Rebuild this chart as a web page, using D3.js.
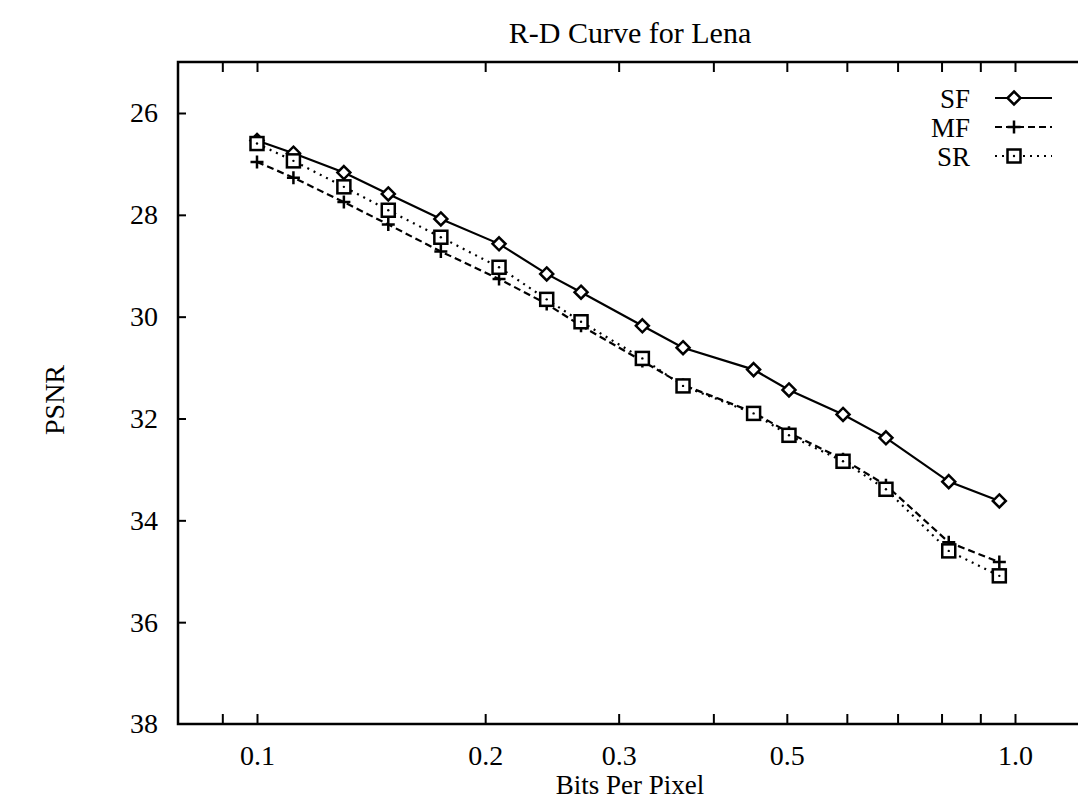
<!DOCTYPE html>
<html>
<head>
<meta charset="utf-8">
<script src="https://cdn.jsdelivr.net/npm/d3@7"></script>
<style>
  html, body { margin: 0; padding: 0; background: #fff; }
  svg text { font-family: "Liberation Serif", "DejaVu Serif", serif; fill: #000; }
</style>
</head>
<body>
<svg id="chart" width="1078" height="800"></svg>
<script>
// ---- data ----
const bpp = [0.1, 0.1117, 0.1302, 0.149, 0.1748, 0.2086, 0.2411, 0.2676,
             0.3224, 0.3648, 0.452, 0.5033, 0.5931, 0.6757, 0.8177, 0.9535];
const sfPSNR = [26.54, 26.79, 27.17, 27.59, 28.08, 28.57, 29.16, 29.52,
                30.18, 30.61, 31.04, 31.44, 31.92, 32.38, 33.24, 33.62];
const mfPSNR = [26.96, 27.27, 27.75, 28.19, 28.72, 29.26, 29.75, 30.18,
                30.87, 31.34, 31.88, 32.28, 32.80, 33.31, 34.43, 34.82];
const srPSNR = [26.60, 26.94, 27.45, 27.91, 28.44, 29.03, 29.66, 30.10,
                30.82, 31.36, 31.90, 32.33, 32.84, 33.39, 34.60, 35.09];
const seriesNames = ["SF", "MF", "SR"];
const xTickValues = [0.09, 0.1, 0.2, 0.3, 0.4, 0.5, 0.6, 0.7, 0.8, 0.9, 1.0];
const xTickLabels = {0.1: "0.1", 0.2: "0.2", 0.3: "0.3", 0.5: "0.5", 1.0: "1.0"};
const yTickValues = [26, 28, 30, 32, 34, 36, 38];
const titleText = "R-D Curve for Lena";
const xLabel = "Bits Per Pixel";
const yLabel = "PSNR";

// ---- layout ----
const svg = d3.select("#chart");
const frame = {left: 178, right: 1088, top: 62, bottom: 724};

const x = d3.scaleLog().domain([0.1, 1.0]).range([257, 1015]);
const y = d3.scaleLinear().domain([26, 38]).range([113, 724]);

const black = "#000";

// frame
svg.append("rect")
  .attr("x", frame.left).attr("y", frame.top)
  .attr("width", frame.right - frame.left).attr("height", frame.bottom - frame.top)
  .attr("fill", "none").attr("stroke", black).attr("stroke-width", 2.5);

// bottom axis (ticks inward)
const xAxisB = d3.axisBottom(x).tickValues(xTickValues).tickSize(-10)
  .tickFormat(d => xTickLabels[d] || "").tickPadding(0);
const gxb = svg.append("g").attr("transform", `translate(0,${frame.bottom})`).call(xAxisB);
gxb.select(".domain").remove();
gxb.selectAll(".tick line").attr("stroke", black).attr("stroke-width", 2);
gxb.selectAll(".tick text").attr("font-size", 28).attr("y", 41).attr("dy", "0");

// top axis
const xAxisT = d3.axisTop(x).tickValues(xTickValues).tickSize(-10).tickFormat("");
const gxt = svg.append("g").attr("transform", `translate(0,${frame.top})`).call(xAxisT);
gxt.select(".domain").remove();
gxt.selectAll(".tick line").attr("stroke", black).attr("stroke-width", 2);

// left axis
const yAxisL = d3.axisLeft(y).tickValues(yTickValues).tickSize(-8).tickPadding(20);
const gyl = svg.append("g").attr("transform", `translate(${frame.left},0)`).call(yAxisL);
gyl.select(".domain").remove();
gyl.selectAll(".tick line").attr("stroke", black).attr("stroke-width", 2)
  .attr("display", d => d === 38 ? "none" : null);
gyl.selectAll(".tick text").attr("font-size", 28);

// right axis
const yAxisR = d3.axisRight(y).tickValues(yTickValues.filter(v => v < 38)).tickSize(-10).tickFormat("");
const gyr = svg.append("g").attr("transform", `translate(${frame.right},0)`).call(yAxisR);
gyr.select(".domain").remove();
gyr.selectAll(".tick line").attr("stroke", black).attr("stroke-width", 2);

// titles
svg.append("text").attr("x", 630).attr("y", 43).attr("text-anchor", "middle")
  .attr("font-size", 30).text(titleText);
svg.append("text").attr("x", 630).attr("y", 794).attr("text-anchor", "middle")
  .attr("font-size", 27).text(xLabel);
svg.append("text").attr("transform", "translate(64,400) rotate(-90)")
  .attr("text-anchor", "middle").attr("font-size", 28).text(yLabel);

// ---- series ----
const series = [
  {name: seriesNames[0], values: sfPSNR, dash: null, marker: "diamond"},
  {name: seriesNames[1], values: mfPSNR, dash: "7,4", marker: "plus"},
  {name: seriesNames[2], values: srPSNR, dash: "2,5", marker: "square"}
];

const line = d3.line().x(d => x(d[0])).y(d => y(d[1]));

function drawMarker(g, kind, cx, cy) {
  if (kind === "diamond") {
    g.append("path")
      .attr("d", `M${cx},${cy - 6.5}L${cx + 6.5},${cy}L${cx},${cy + 6.5}L${cx - 6.5},${cy}Z`)
      .attr("fill", "#fff").attr("stroke", black).attr("stroke-width", 2.5);
  } else if (kind === "plus") {
    g.append("path")
      .attr("d", `M${cx - 6.5},${cy}H${cx + 6.5}M${cx},${cy - 6.5}V${cy + 6.5}`)
      .attr("fill", "none").attr("stroke", black).attr("stroke-width", 2.5);
  } else {
    g.append("rect").attr("x", cx - 6.5).attr("y", cy - 6.5).attr("width", 13).attr("height", 13)
      .attr("fill", "#fff").attr("stroke", black).attr("stroke-width", 2.5);
    g.append("circle").attr("cx", cx).attr("cy", cy).attr("r", 1.2).attr("fill", black);
  }
}

series.forEach(s => {
  const pts = bpp.map((b, i) => [b, s.values[i]]);
  const g = svg.append("g");
  g.append("path").datum(pts).attr("d", line)
    .attr("fill", "none").attr("stroke", black).attr("stroke-width", 2.2)
    .attr("stroke-dasharray", s.dash);
  pts.forEach(p => drawMarker(g, s.marker, x(p[0]), y(p[1])));
});

// ---- legend ----
const legendY = [98, 127, 156];
series.forEach((s, i) => {
  const g = svg.append("g");
  const ly = legendY[i];
  g.append("text").attr("x", 970).attr("y", ly + 10).attr("text-anchor", "end")
    .attr("font-size", 27).text(s.name);
  g.append("line").attr("x1", 995).attr("x2", 1052).attr("y1", ly).attr("y2", ly)
    .attr("stroke", black).attr("stroke-width", 2.2).attr("stroke-dasharray", s.dash);
  drawMarker(g, s.marker, 1014, ly);
});
</script>
</body>
</html>
